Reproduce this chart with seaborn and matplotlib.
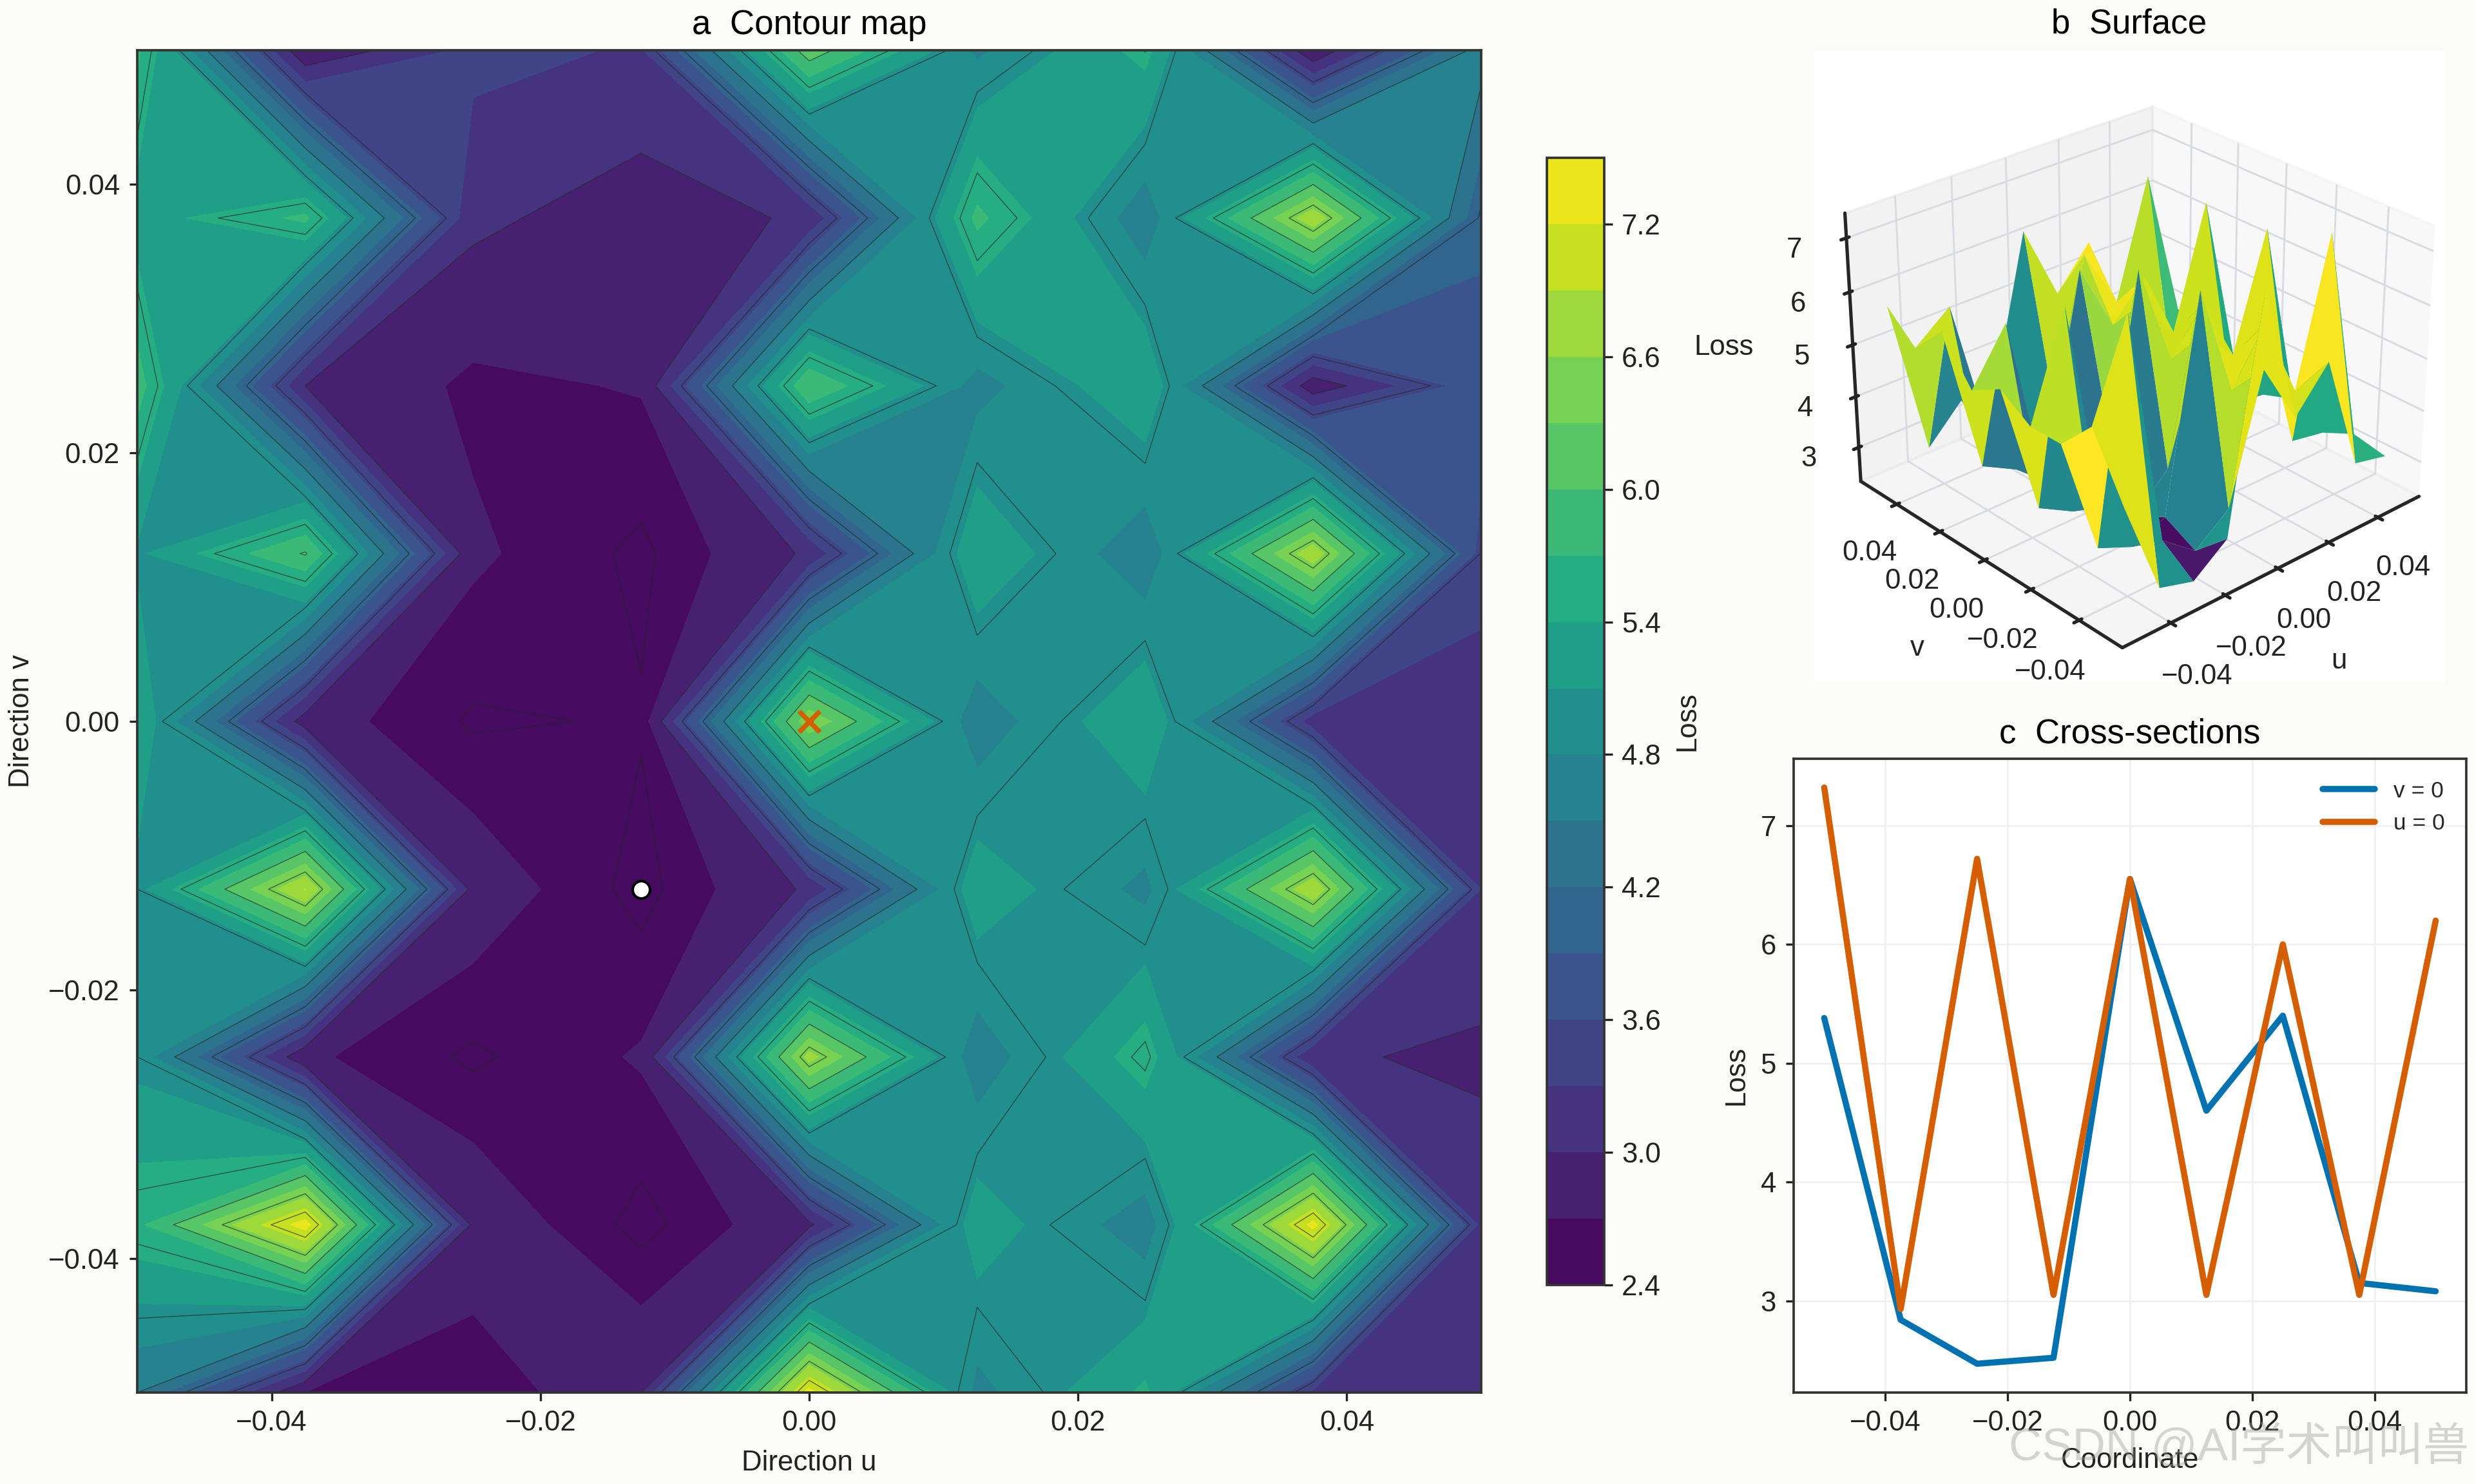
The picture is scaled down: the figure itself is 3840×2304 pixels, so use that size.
# Loss landscape figure: contour map, surface and cross-sections
import numpy as np
import pandas as pd
import matplotlib
matplotlib.use("Agg")
import matplotlib.pyplot as plt
import seaborn as sns

# grid coordinates
coords = [-0.05, -0.0375, -0.025, -0.0125, 0.0, 0.0125, 0.025, 0.0375, 0.05]

# loss rows, v = -0.05 at the first row, u left to right
row_m050 = [4.50, 2.70, 2.50, 3.00, 7.32, 4.70, 5.46, 3.25, 3.10]
row_m038 = [5.63, 7.35, 2.93, 2.42, 2.93, 5.29, 4.62, 7.30, 3.22]
row_m025 = [5.00, 2.75, 2.46, 2.73, 6.72, 4.60, 5.58, 3.05, 2.93]
row_m013 = [5.00, 6.92, 2.89, 2.42, 3.05, 5.31, 4.71, 6.85, 3.30]
row_000 = [5.38, 2.84, 2.47, 2.52, 6.55, 4.60, 5.40, 3.15, 3.08]
row_p013 = [5.05, 6.03, 2.75, 2.45, 3.05, 5.38, 4.57, 6.82, 3.48]
row_p025 = [5.85, 3.00, 2.64, 2.72, 6.00, 4.68, 5.37, 2.80, 3.80]
row_p038 = [5.25, 5.77, 3.07, 2.83, 3.05, 5.78, 4.60, 6.82, 3.95]
row_p050 = [5.76, 2.72, 3.39, 3.27, 6.20, 4.74, 5.51, 2.72, 4.65]

fill_levels = [2.4, 2.7, 3.0, 3.3, 3.6, 3.9, 4.2, 4.5, 4.8, 5.1, 5.4, 5.7, 6.0, 6.3, 6.6, 6.9, 7.2, 7.5]
line_levels = [2.5, 3.0, 3.5, 4.0, 4.5, 5.0, 5.5, 6.0, 6.5, 7.0]
bar_ticks = [2.4, 3.0, 3.6, 4.2, 4.8, 5.4, 6.0, 6.6, 7.2]

loss = np.array([row_m050, row_m038, row_m025, row_m013, row_000,
                 row_p013, row_p025, row_p038, row_p050])
U, V = np.meshgrid(coords, coords)

sns.set_theme(style="ticks")
plt.rcParams["font.family"] = ["Liberation Sans", "Noto Sans CJK SC"]
plt.rcParams["axes.unicode_minus"] = True

W, H = 3840, 2304
bg = "#FBFBF7"
edge = "#333333"
text_col = "#222222"
tick_fs = 10.5
title_fs = 12.7

fig = plt.figure(figsize=(12.8, 7.68), dpi=300, facecolor=bg)


def box(x0, y0, x1, y1):
    return [x0 / W, 1 - y1 / H, (x1 - x0) / W, (y1 - y0) / H]


# panel a
ax = fig.add_axes(box(213, 78, 2299, 2162))
cf = ax.contourf(U, V, loss, levels=fill_levels, cmap="viridis")
ax.contour(U, V, loss, levels=line_levels, colors="#222222", linewidths=0.3, alpha=0.7)
ax.scatter([0.0], [0.0], marker="x", s=60, color="#D55E00", linewidths=1.8, zorder=5)
ax.scatter([-0.0125], [-0.0125], marker="o", s=42, color="white", edgecolors="black", linewidths=1.0, zorder=5)
ax.set_xticks([-0.04, -0.02, 0.0, 0.02, 0.04])
ax.set_yticks([-0.04, -0.02, 0.0, 0.02, 0.04])
ax.set_xlabel("Direction u", fontsize=tick_fs, color=text_col, labelpad=5)
ax.set_ylabel("Direction v", fontsize=tick_fs, color=text_col, labelpad=5)
ax.set_title("a  Contour map", fontsize=title_fs, color="black", pad=6)
ax.tick_params(labelsize=tick_fs, length=3, width=0.8, colors=text_col)
for s in ax.spines.values():
    s.set_color(edge)
    s.set_linewidth(0.9)

cax = fig.add_axes(box(2401, 245, 2490, 1995))
cb = fig.colorbar(cf, cax=cax)
cb.set_ticks(bar_ticks)
cb.set_label("Loss", fontsize=tick_fs, color=text_col, labelpad=5)
cb.ax.tick_params(labelsize=tick_fs, length=3, width=0.8, colors=text_col)
cb.outline.set_edgecolor(edge)
cb.outline.set_linewidth(0.9)

# panel b
ax3 = fig.add_axes(box(2815, 79, 3797, 1059), projection="3d")
ax3.plot_surface(U, V, loss, cmap="viridis", linewidth=0, antialiased=True)
ax3.view_init(elev=28, azim=-132)
ax3.set_proj_type("persp", focal_length=0.75)
ax3.set_xticks([-0.04, -0.02, 0.0, 0.02, 0.04])
ax3.set_yticks([-0.04, -0.02, 0.0, 0.02, 0.04])
ax3.set_zticks([3, 4, 5, 6, 7])
ax3.set_xlabel("u", fontsize=tick_fs, color=text_col, labelpad=5)
ax3.set_ylabel("v", fontsize=tick_fs, color=text_col, labelpad=5)
ax3.set_zlabel("Loss", fontsize=tick_fs, color=text_col, labelpad=7)
ax3.tick_params(labelsize=tick_fs, colors=text_col, pad=3)
for axis in [ax3.xaxis, ax3.yaxis, ax3.zaxis]:
    axis._axinfo["grid"]["color"] = "#D8DBE2"
    axis._axinfo["grid"]["linewidth"] = 0.7
fig.text(3305 / W, 1 - 52 / H, "b  Surface", fontsize=title_fs, color="black",
         ha="center", va="baseline")

# panel c
axc = fig.add_axes(box(2784, 1178, 3828, 2162))
section = pd.DataFrame({
    "coord": coords * 2,
    "loss": row_000 + list(loss[:, 4]),
    "cut": ["v = 0"] * 9 + ["u = 0"] * 9,
})
sns.lineplot(data=section, x="coord", y="loss", hue="cut", ax=axc,
             palette=["#0072B2", "#D55E00"], linewidth=2.3, errorbar=None)
axc.set_xticks([-0.04, -0.02, 0.0, 0.02, 0.04])
axc.set_yticks([3, 4, 5, 6, 7])
axc.set_xlabel("Coordinate", fontsize=tick_fs, color=text_col, labelpad=4)
axc.set_ylabel("Loss", fontsize=tick_fs, color=text_col)
axc.set_title("c  Cross-sections", fontsize=title_fs, color="black", pad=6)
axc.grid(True, color="#EFEFEF", linewidth=0.6)
axc.set_facecolor("white")
axc.tick_params(labelsize=tick_fs, length=3, width=0.8, colors=text_col)
axc.legend(title=None, frameon=False, fontsize=8.5, loc="upper right",
           handlelength=2.3, labelspacing=0.5, borderaxespad=0.55)
for s in axc.spines.values():
    s.set_color(edge)
    s.set_linewidth(0.9)

# watermark over the lower right corner
fig.text(0.998, 0.010, "CSDN @AI学术叫叫兽", ha="right", va="bottom", fontsize=17,
         color="#999999", alpha=0.4)

fig.savefig("out.png", dpi=300, facecolor=bg)
